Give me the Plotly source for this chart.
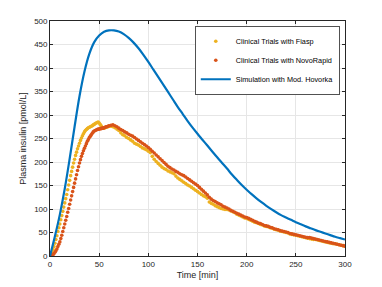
import plotly.graph_objects as go

# ---- data ----
t_clin = list(range(0, 61)) + list(range(62, 301, 2))

fiasp = [0, 3, 8, 14, 20, 27, 35, 43, 52, 60, 68, 77, 86, 95, 104, 113, 122, 131, 141, 151,
         161, 171, 180, 189, 198, 206, 214, 221, 228, 234, 240, 246, 251, 256, 260, 264, 267, 269, 271, 273,
         274, 275, 276, 277, 279, 280, 282, 283, 284, 285, 283, 280, 277, 274, 272, 272, 273, 274, 275, 275,
         276,
         276, 275, 273, 270, 267, 262, 258, 256, 252, 250, 247, 244, 240, 238, 236, 233, 230, 228, 226, 223,
         220, 212, 206, 201, 197, 193, 189, 186, 184, 181, 179, 177, 175, 170, 166, 163, 160, 157, 154, 151,
         149, 146, 143, 140, 137, 134, 131, 128, 126, 123, 115, 112, 110, 107, 105, 103, 101, 100, 99, 99,
         98, 96, 94, 92, 89, 87, 85, 83, 81, 80, 78, 76, 74, 72, 71, 69, 67, 66, 64, 63,
         62, 60, 59, 57, 56, 55, 53, 52, 51, 50, 49, 47, 46, 45, 44, 43, 42, 41, 40, 39,
         38, 37, 36, 35, 35, 34, 33, 32, 31, 30, 29, 28, 27, 26, 26, 25, 24, 23, 22, 21]

novorapid = [0, 0.5, 1.5, 3, 5, 8, 11, 15, 20, 25, 30, 37, 44, 52, 60, 68, 76, 84, 93, 101,
             110, 119, 128, 137, 146, 155, 164, 173, 182, 190, 198, 205, 212, 218, 224, 229, 234, 239, 244, 248,
             252, 255, 258, 261, 264, 266, 267, 268, 269, 270, 270, 271, 271, 272, 272, 273, 274, 275, 275, 276,
             277,
             278, 279, 277, 275, 272, 269, 267, 264, 262, 259, 257, 255, 252, 249, 246, 243, 240, 237, 234, 231,
             227, 223, 219, 215, 211, 207, 203, 199, 195, 191, 188, 185, 183, 180, 178, 175, 173, 171, 168, 165,
             162, 159, 156, 153, 150, 146, 142, 138, 134, 130, 125, 121, 118, 116, 113, 111, 109, 106, 104, 102,
             100, 97, 95, 93, 91, 89, 87, 85, 83, 82, 80, 78, 76, 74, 72, 70, 69, 67, 65, 64,
             63, 61, 60, 58, 57, 56, 54, 53, 52, 51, 50, 48, 47, 46, 45, 44, 43, 42, 41, 40,
             39, 39, 38, 37, 36, 35, 34, 33, 32, 31, 30, 29, 28, 27, 26, 25, 24, 23, 22, 21]

t_sim = list(range(0, 301, 5))
hovorka = [0, 42, 88, 143, 207, 275, 340, 392, 430, 455, 469, 477, 480, 480, 477.5, 472, 464, 454, 442, 428,
           413, 397, 381, 365, 349, 333, 317, 302, 287, 273, 260, 247.5, 235, 222.5, 210, 198, 186, 173.5, 162, 151,
           141, 131.5, 122.7, 114.5, 106.8, 99.6, 93, 87, 82, 77, 72, 67.5, 63, 59, 55, 51.5, 48, 44.5, 41, 38, 35]

x_ticks = [0, 50, 100, 150, 200, 250, 300]
y_ticks = [0, 50, 100, 150, 200, 250, 300, 350, 400, 450, 500]

BLUE = "#0072BD"
ORANGE = "#D95319"
YELLOW = "#EDB120"
AX = "#262626"
GRID = "#e6e6e6"
FONT = "Liberation Sans, Arial, sans-serif"

fig = go.Figure()
fig.add_trace(go.Scatter(x=t_clin, y=fiasp, mode="markers", name="Clinical Trials with Fiasp",
                         marker=dict(color=YELLOW, size=3.6, line=dict(width=0))))
fig.add_trace(go.Scatter(x=t_clin, y=novorapid, mode="markers", name="Clinical Trials with NovoRapid",
                         marker=dict(color=ORANGE, size=3.6, line=dict(width=0))))
fig.add_trace(go.Scatter(x=t_sim, y=hovorka, mode="lines", name="Simulation with Mod. Hovorka",
                         line=dict(color=BLUE, width=2.2, shape="spline", smoothing=1.0)))

axis_common = dict(showline=True, linecolor=AX, linewidth=0.8, mirror="ticks",
                   ticks="inside", ticklen=3, tickwidth=0.8, tickcolor=AX,
                   showgrid=True, gridcolor=GRID, gridwidth=0.8, zeroline=False,
                   tickfont=dict(family=FONT, size=8, color=AX), automargin=False)

fig.update_xaxes(range=[0, 300], tickvals=x_ticks, ticktext=[str(v) for v in x_ticks],
                 title=dict(text="Time [min]", font=dict(family=FONT, size=9, color=AX), standoff=4),
                 **axis_common)
fig.update_yaxes(range=[0, 500], tickvals=y_ticks, ticktext=[str(v) for v in y_ticks],
                 title=dict(text="Plasma insulin [pmol/L]", font=dict(family=FONT, size=9, color=AX), standoff=5),
                 **axis_common)

# the page body adds an 8 px offset, so margins are shifted to keep the plot area in place
fig.update_layout(
    width=382, height=287,
    margin=dict(l=42, r=45, t=13, b=39, pad=0),
    paper_bgcolor="white", plot_bgcolor="white",
    showlegend=True,
    legend=dict(x=0.983, y=0.979, xanchor="right", yanchor="top",
                bgcolor="white", bordercolor=AX, borderwidth=0.8,
                font=dict(family=FONT, size=7.3, color="#000000"),
                itemwidth=30, tracegroupgap=0),
    font=dict(family=FONT),
)

fig.write_html("out.html")
